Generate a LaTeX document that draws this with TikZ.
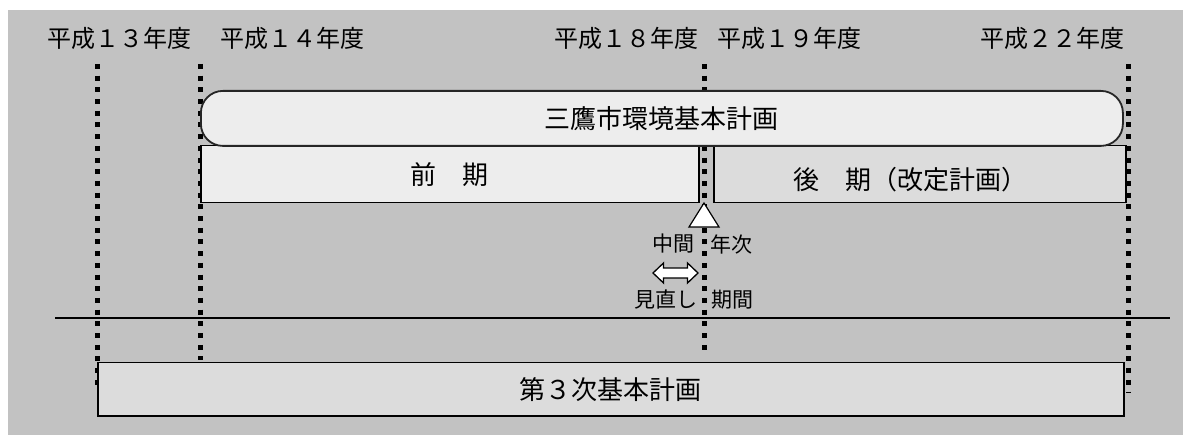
\documentclass[tikz,border=0pt]{standalone}
\usepackage{fontspec}
\newfontfamily\jp{Noto Sans CJK JP}
\definecolor{bggray}{HTML}{C2C2C2}
\definecolor{lightfill}{HTML}{EDEDED}
\definecolor{midfill}{HTML}{DCDCDC}
\begin{document}
\begin{tikzpicture}[x=1pt,y=-1pt,
  dotv/.style={line width=5pt, dash pattern=on 5pt off 6.7pt, black},
  yearlbl/.style={font=\jp\fontsize{24}{24}\selectfont, inner sep=0pt},
  boxtxt/.style={font=\jp\fontsize{26}{26}\selectfont},
  smalltxt/.style={font=\jp\fontsize{21}{21}\selectfont, inner sep=0pt},
  planbox/.style={draw=black!85, line width=1.8pt, fill=lightfill, rounded corners=22pt, inner sep=0pt},
  phasebox/.style={draw=black, line width=1.5pt, inner sep=0pt}
]
\useasboundingbox (0,0) rectangle (1183,435);
\fill[bggray] (8,10) rectangle (1183,435);

% year labels
\node[yearlbl] (y13) at (119,38) {平成１３年度};
\node[yearlbl] (y14) at (292,38) {平成１４年度};
\node[yearlbl] (y18) at (626,38) {平成１８年度};
\node[yearlbl] (y19) at (789,38) {平成１９年度};
\node[yearlbl] (y22) at (1052,38) {平成２２年度};

% dotted guide lines
\coordinate (d13t) at (97,64);   \coordinate (d13b) at (97,388);
\coordinate (d14t) at (200,64);  \coordinate (d14b) at (200,360);
\coordinate (d19t) at (704,64);  \coordinate (d19b) at (704,356);
\coordinate (d22t) at (1128,64); \coordinate (d22b) at (1128,392);
\draw[dotv] (d13t) -- (d13b);
\draw[dotv] (d14t) -- (d14b);
\draw[dotv] (d19t) -- (d19b);
\draw[dotv] (d22t) -- (d22b);

% phase boxes
\node[phasebox, fill=lightfill, minimum width=498pt, minimum height=57pt, anchor=north west] (zenki) at (200,145) {};
\node[boxtxt] (zenkitxt) at (zenki.center) {前　期};
\node[phasebox, fill=midfill, minimum width=412pt, minimum height=57pt, anchor=north west] (kouki) at (713,145) {};
\node[boxtxt] (koukitxt) at (910,180) {後　期（改定計画）};

% main plan
\node[planbox, minimum width=922pt, minimum height=55pt, anchor=north west] (plan) at (200,90) {};
\node[boxtxt] (plantxt) at (plan.center) {三鷹市環境基本計画};

% midpoint marker
\coordinate (tri) at (704,203);
\draw[fill=white, line width=1.2pt] (tri) -- ++(-15,24) -- ++(30,0) -- cycle;
\node[smalltxt] (chukan) at (673,244) {中間};
\node[smalltxt] (nenji) at (731,244) {年次};
\coordinate (dbl) at (675.5,273);
\draw[fill=white, line width=1.3pt] (dbl) ++(-22.5,0) -- ++(10.5,-10) -- ++(0,5) -- ++(24,0) -- ++(0,-5) -- ++(10.5,10) -- ++(-10.5,10) -- ++(0,-5) -- ++(-24,0) -- ++(0,5) -- cycle;
\node[smalltxt] (minaoshi) at (666,300) {見直し};
\node[smalltxt] (kikan) at (732,300) {期間};

% separator line
\coordinate (hl) at (55,318); \coordinate (hr) at (1170,318);
\draw[line width=1.6pt] (hl) -- (hr);

% third plan
\node[phasebox, fill=midfill, minimum width=1026pt, minimum height=53pt, anchor=north west] (third) at (97,362) {};
\node[boxtxt] (thirdtxt) at (third.center) {第３次基本計画};
\end{tikzpicture}
\end{document}
